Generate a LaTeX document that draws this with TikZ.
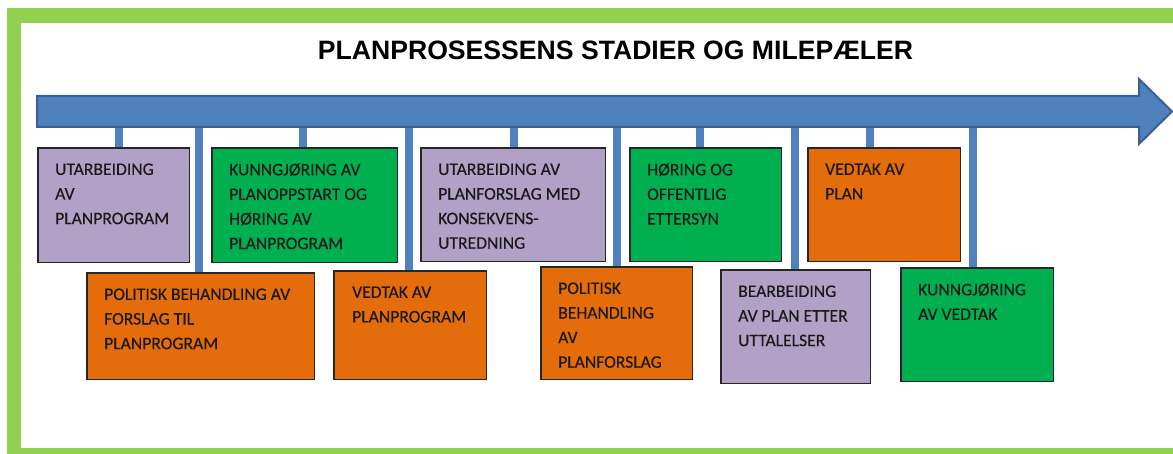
\documentclass[tikz,border=0pt]{standalone}
\usepackage{fontspec}
\setmainfont{Carlito}
\newfontfamily\boxfont[FakeBold=0.35]{Carlito}
\newfontfamily\titlefont{Liberation Sans}
\usetikzlibrary{calc}
\definecolor{framegreen}{HTML}{92D050}
\definecolor{arrowblue}{HTML}{4F81BD}
\definecolor{arrowborder}{HTML}{3A6090}
\definecolor{purp}{HTML}{B2A1C7}
\definecolor{grn}{HTML}{00B050}
\definecolor{orng}{HTML}{E46C0A}
\begin{document}
\begin{tikzpicture}[x=1pt,y=-1pt,
  box/.style={draw=black!85, line width=1.2pt, anchor=north west, inner sep=0pt},
  lbl/.style={anchor=north west, inner sep=0pt, align=left, font=\boxfont\fontsize{17.6}{24.6}\selectfont, text=black!90},
  stem/.style={draw=arrowblue, line width=8pt}]
\useasboundingbox (0,0) rectangle (1173,454);
\clip (0,0) rectangle (1173,454);
\fill[white] (0,0) rectangle (1173,454);
% frame
\draw[framegreen, line width=14.5pt] (14,15.5) rectangle (1200,455.5);
% title
\node[font=\titlefont\bfseries\fontsize{26.6}{30}\selectfont] (title) at (615.5,50.5) {PLANPROSESSENS STADIER OG MILEPÆLER};
% boxes
\node[box, fill=purp, minimum width=150, minimum height=113] (b1) at (38,148) {};
\node[box, fill=orng, minimum width=226, minimum height=105] (b2) at (87,273) {};
\node[box, fill=grn,  minimum width=184, minimum height=113] (b3) at (212,148) {};
\node[box, fill=orng, minimum width=151, minimum height=107] (b4) at (334,271) {};
\node[box, fill=purp, minimum width=183, minimum height=112] (b5) at (421,148) {};
\node[box, fill=orng, minimum width=150, minimum height=111] (b6) at (541,267) {};
\node[box, fill=grn,  minimum width=150, minimum height=112] (b7) at (630,148) {};
\node[box, fill=purp, minimum width=148, minimum height=112] (b8) at (721,270) {};
\node[box, fill=orng, minimum width=151, minimum height=112] (b9) at (808,148) {};
\node[box, fill=grn,  minimum width=151, minimum height=112] (b10) at (901,268) {};
% stems
\coordinate (s1) at (118.8,120);
\coordinate (s2) at (198.5,120);
\coordinate (s3) at (302.8,120);
\coordinate (s4) at (408.7,120);
\coordinate (s5) at (513.7,120);
\coordinate (s6) at (617,120);
\coordinate (s7) at (700.3,120);
\coordinate (s8) at (795,120);
\coordinate (s9) at (869.5,120);
\coordinate (s10) at (973,120);
\foreach \i in {1,...,10} {\draw[stem] (s\i) -- (s\i |- b\i.north);}
% arrow
\coordinate (tail) at (37,111.5);
\coordinate (tip) at (1172,111.5);
\draw[fill=arrowblue, draw=arrowborder, line width=2pt, line join=miter]
  ($(tail)+(0,-15.5)$) -- (1139,96) -- (1139,79) -- (tip) -- (1139,144) -- (1139,127) -- ($(tail)+(0,15.5)$) -- cycle;
% redraw boxes on top of stems
\foreach \b/\c in {b1/purp,b2/orng,b3/grn,b4/orng,b5/purp,b6/orng,b7/grn,b8/purp,b9/orng,b10/grn}
  {\draw[draw=black!85, line width=1.2pt, fill=\c] (\b.north west) rectangle (\b.south east);}
% labels
\node[lbl] (t1) at ($(b1.north west)+(17,15.3)$) {UTARBEIDING\\AV\\PLANPROGRAM};
\node[lbl] (t2) at ($(b2.north west)+(17,15.3)$) {POLITISK BEHANDLING AV\\FORSLAG TIL\\PLANPROGRAM};
\node[lbl] (t3) at ($(b3.north west)+(17,15.3)$) {KUNNGJØRING AV\\PLANOPPSTART OG\\HØRING AV\\PLANPROGRAM};
\node[lbl] (t4) at ($(b4.north west)+(18,15.3)$) {VEDTAK AV\\PLANPROGRAM};
\node[lbl] (t5) at ($(b5.north west)+(17,15.3)$) {UTARBEIDING AV\\PLANFORSLAG MED\\KONSEKVENS-\\UTREDNING};
\node[lbl] (t6) at ($(b6.north west)+(17,15.3)$) {POLITISK\\BEHANDLING\\AV\\PLANFORSLAG};
\node[lbl] (t7) at ($(b7.north west)+(17,15.3)$) {HØRING OG\\OFFENTLIG\\ETTERSYN};
\node[lbl] (t8) at ($(b8.north west)+(17,15.3)$) {BEARBEIDING\\AV PLAN ETTER\\UTTALELSER};
\node[lbl] (t9) at ($(b9.north west)+(17,15.3)$) {VEDTAK AV\\PLAN};
\node[lbl] (t10) at ($(b10.north west)+(17,15.3)$) {KUNNGJØRING\\AV VEDTAK};
\end{tikzpicture}
\end{document}
